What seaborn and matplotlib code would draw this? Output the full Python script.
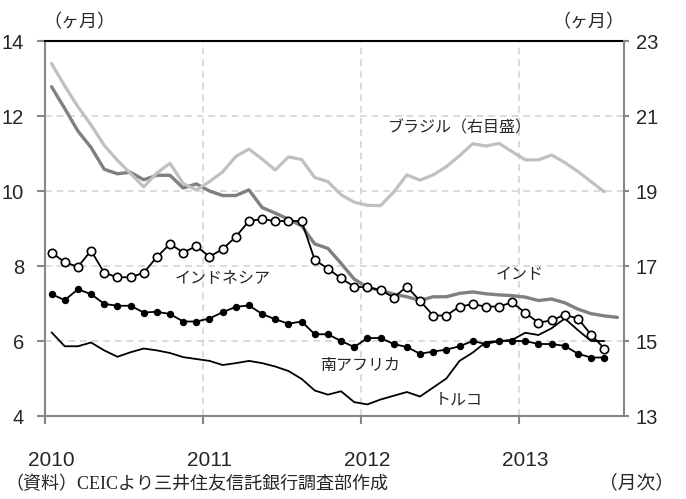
import numpy as np
import pandas as pd
import matplotlib
matplotlib.use('Agg')
import matplotlib.pyplot as plt
import seaborn as sns

# months from 2010/1 to 2013/8 (index 0..43)
months = list(range(44))
year_labels = ['2010', '2011', '2012', '2013']

india = [12.78, 12.20, 11.60, 11.16, 10.58, 10.46, 10.50, 10.30, 10.42, 10.42, 10.08, 10.19,
         10.00, 9.88, 9.88, 10.03, 9.56, 9.41, 9.25, 9.07, 8.59, 8.47, 8.07, 7.65,
         7.43, 7.35, 7.25, 7.18, 7.08, 7.18, 7.18, 7.27, 7.31, 7.26, 7.23, 7.21,
         7.17, 7.08, 7.12, 7.02, 6.85, 6.73, 6.67, 6.63]
indonesia = [8.36, 8.10, 7.98, 8.41, 7.82, 7.70, 7.70, 7.82, 8.24, 8.59, 8.36, 8.53,
             8.25, 8.45, 8.78, 9.20, 9.25, 9.20, 9.20, 9.20, 8.16, 7.93, 7.67, 7.45,
             7.43, 7.36, 7.16, 7.45, 7.07, 6.68, 6.68, 6.92, 6.98, 6.92, 6.92, 7.03,
             6.75, 6.49, 6.55, 6.70, 6.60, 6.17, 5.80, None]
south_africa = [7.25, 7.09, 7.38, 7.25, 6.99, 6.94, 6.94, 6.76, 6.78, 6.72, 6.52, 6.52,
                6.60, 6.77, 6.91, 6.95, 6.72, 6.58, 6.46, 6.52, 6.18, 6.18, 6.00, 5.84,
                6.08, 6.08, 5.92, 5.84, 5.66, 5.72, 5.77, 5.86, 6.00, 5.92, 6.00, 6.00,
                6.00, 5.92, 5.92, 5.87, 5.66, 5.56, 5.56, None]
turkey = [6.23, 5.86, 5.86, 5.96, 5.75, 5.58, 5.70, 5.80, 5.75, 5.68, 5.57, 5.52,
          5.47, 5.36, 5.41, 5.47, 5.41, 5.32, 5.20, 4.99, 4.68, 4.57, 4.66, 4.37,
          4.31, 4.44, 4.54, 4.64, 4.52, 4.76, 5.00, 5.47, 5.69, 5.97, 6.00, 6.03,
          6.22, 6.16, 6.34, 6.60, 6.29, 6.00, 6.00, None]
# Brazil is on the right-hand scale
brazil = [22.40, 21.80, 21.25, 20.76, 20.22, 19.82, 19.47, 19.11, 19.48, 19.74, 19.20, 19.03,
          19.25, 19.51, 19.92, 20.12, 19.85, 19.56, 19.91, 19.84, 19.36, 19.25, 18.90, 18.70,
          18.62, 18.61, 18.97, 19.43, 19.29, 19.43, 19.65, 19.94, 20.26, 20.20, 20.27, 20.05,
          19.83, 19.83, 19.96, 19.76, 19.52, 19.25, 18.98, None]

df = pd.DataFrame({'month': months, 'india': india, 'indonesia': indonesia,
                   'south_africa': south_africa, 'turkey': turkey,
                   'brazil': brazil}).astype(float)

sns.set_style('white')
plt.rcParams['font.family'] = ['Liberation Sans', 'Noto Sans CJK JP']

fig = plt.figure(figsize=(6.86, 4.99), dpi=100)
ax = fig.add_axes([0.0656, 0.1663, 0.8440, 0.7515])
ax2 = ax.twinx()

sns.lineplot(data=df, x='month', y='india', ax=ax, color='#808080', lw=2.4, legend=False)
sns.lineplot(data=df, x='month', y='turkey', ax=ax, color='black', lw=1.3, legend=False)
sns.lineplot(data=df, x='month', y='south_africa', ax=ax, color='black', lw=1.3,
             marker='o', markersize=4.5, markerfacecolor='black', markeredgecolor='black',
             markeredgewidth=0.8, legend=False)
sns.lineplot(data=df, x='month', y='indonesia', ax=ax, color='black', lw=1.3,
             marker='o', markersize=6, markerfacecolor='white', markeredgecolor='black',
             markeredgewidth=1.2, legend=False)
sns.lineplot(data=df, x='month', y='brazil', ax=ax2, color='#c0c0c0', lw=2.3, legend=False)

ax.set_xlim(-0.5, 43.5)
ax.set_ylim(4, 14)
ax2.set_ylim(13, 23)
ax.set_yticks([4, 6, 8, 10, 12, 14])
ax2.set_yticks([13, 15, 17, 19, 21, 23])
ax.set_xticks([-0.5, 11.5, 23.5, 35.5])
ax.set_xticklabels([''] * 4)
ax.set_xticks([0, 12, 24, 36], minor=True)
ax.set_xticklabels(year_labels, minor=True)
for a in (ax, ax2):
    a.set_xlabel('')
    a.set_ylabel('')

ax.grid(True, which='major', color='#d4d4d4', linestyle=(0, (4, 3)), lw=1.2)
ax.set_axisbelow(True)

gray = '#868686'
ax.tick_params(axis='x', which='major', bottom=True, direction='out', length=6,
               width=1.5, color=gray)
ax.tick_params(axis='x', which='minor', bottom=True, length=0, pad=25, labelsize=15)
ax.tick_params(axis='y', left=True, direction='out', length=6, width=1.5, color=gray,
               pad=9, labelsize=14.5)
ax2.tick_params(axis='y', right=True, direction='out', length=3.6, width=1.5, color=gray,
                pad=5, labelsize=14.5)

for name, sp in ax.spines.items():
    sp.set_linewidth(1.5)
    sp.set_color(gray)
ax.spines['right'].set_visible(False)
ax.spines['top'].set_color('black')
for name, sp in ax2.spines.items():
    sp.set_visible(name == 'right')
ax2.spines['right'].set_color(gray)
ax2.spines['right'].set_linewidth(1.5)

# series labels
lab = dict(fontsize=11.5, ha='left', va='center')
ax.text(25.56, 11.68, 'ブラジル（右目盛）', **lab)
ax.text(9.38, 7.68, 'インドネシア', **lab)
ax.text(33.77, 7.76, 'インド', **lab)
ax.text(20.4, 5.36, '南アフリカ', **lab)
ax.text(29.14, 4.43, 'トルコ', **lab)

fig.text(79 / 686, 1 - 23 / 499, '（ヶ月）', fontsize=13, ha='center', va='center')
fig.text(588 / 686, 1 - 23 / 499, '（ヶ月）', fontsize=13, ha='center', va='center')
fig.text(637 / 686, 1 - 483 / 499, '（月次）', fontsize=13.5, ha='center', va='center')
fig.text(5 / 686, 1 - 484 / 499, '（資料）CEICより三井住友信託銀行調査部作成', fontsize=13,
         ha='left', va='center', family=['Liberation Serif', 'Noto Sans CJK JP'])

fig.savefig('out.png', dpi=100)
